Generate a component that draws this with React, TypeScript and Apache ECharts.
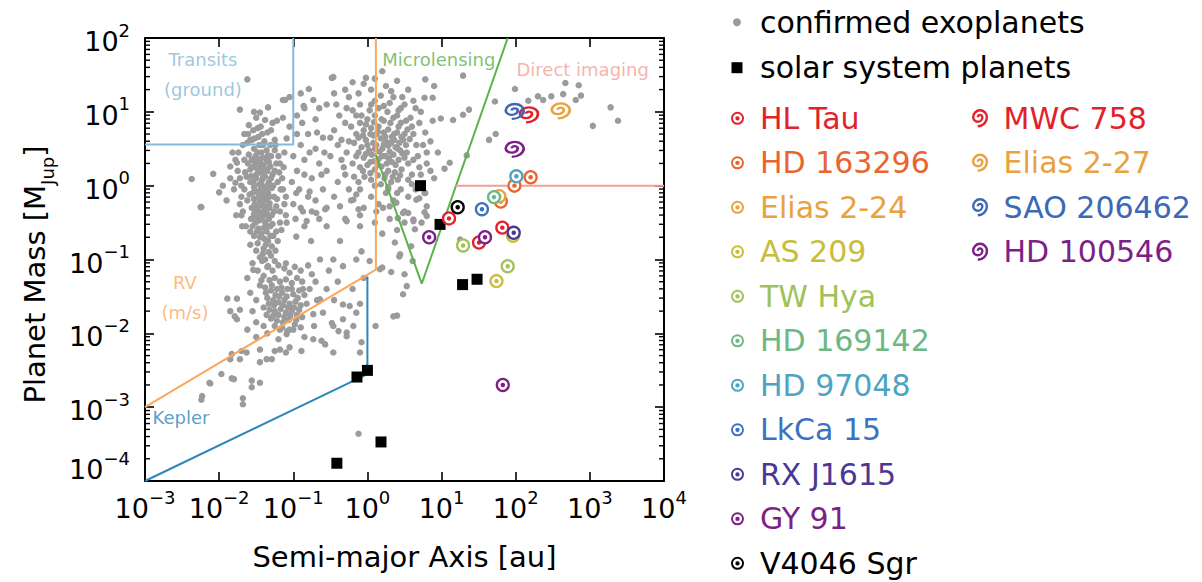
import { useEffect, useRef } from 'react';
import * as echarts from 'echarts';

const FONT = 'DejaVu Sans';

// Confirmed exoplanets, stored as [log10(a / au), log10(M / MJup)]
const exoplanetsLog: [number, number][] = [
  // hot Jupiter clump
  [-1.45,0.32],[-1.40,0.28],[-1.36,0.35],[-1.48,0.22],[-1.43,0.18],[-1.35,0.20],[-1.31,0.26],[-1.50,0.10],[-1.42,0.08],[-1.38,0.12],
  [-1.33,0.05],[-1.46,0.02],[-1.40,-0.02],[-1.36,-0.06],[-1.49,-0.08],[-1.43,-0.12],[-1.39,-0.16],[-1.34,-0.10],[-1.29,-0.03],[-1.53,-0.18],
  [-1.45,-0.22],[-1.41,-0.27],[-1.37,-0.20],[-1.32,-0.24],[-1.48,-0.30],[-1.44,-0.36],[-1.39,-0.33],[-1.35,-0.38],[-1.42,-0.44],[-1.38,-0.50],
  [-1.46,-0.47],[-1.33,-0.45],[-1.40,-0.57],[-1.36,-0.62],[-1.43,-0.65],[-1.39,-0.72],[-1.34,-0.55],[-1.31,-0.68],[-1.47,-0.58],[-1.37,-0.80],
  [-1.55,0.25],[-1.28,0.15],[-1.26,-0.15],[-1.51,0.40],[-1.43,0.45],[-1.36,0.48],[-1.30,0.40],[-1.58,0.05],[-1.23,0.30],[-1.21,0.05],
  [-1.56,-0.30],[-1.26,-0.35],[-1.50,0.15],[-1.33,0.32],[-1.41,0.38],[-1.46,0.55],[-1.39,0.60],[-1.31,0.55],[-1.53,0.50],[-1.25,0.48],
  [-1.61,0.30],[-1.63,0.12],[-1.19,0.18],[-1.17,-0.05],[-1.59,-0.12],[-1.23,-0.28],[-1.51,-0.42],[-1.28,-0.52],[-1.55,-0.55],[-1.23,-0.62],
  [-1.44,0.25],[-1.37,0.22],[-1.41,0.14],[-1.35,0.00],[-1.44,-0.05],[-1.38,-0.10],[-1.42,-0.19],[-1.36,-0.29],[-1.40,-0.40],[-1.32,-0.15],
  [-1.47,0.36],[-1.34,0.41],[-1.30,0.10],[-1.47,-0.15],[-1.29,-0.40],[-1.45,-0.70],[-1.34,-0.75],[-1.40,-0.85],
  [-1.48,-0.78],[-1.41,-0.92],[-1.33,-0.90],[-1.45,-0.97],[-1.29,-0.82],[-1.53,-0.68],[-1.21,-0.75],[-1.38,-1.00],
  [-1.70,0.00],[-1.65,0.18],[-1.62,-0.20],[-1.68,-0.35],[-1.60,0.42],[-1.57,-0.45],[-1.64,-0.55],[-1.72,0.10],[-1.66,0.35],[-1.58,0.22],
  [-1.54,0.05],[-1.55,-0.10],[-1.52,-0.25],[-1.50,-0.35],[-1.56,0.35],[-1.53,-0.02],[-1.49,0.27],[-1.51,-0.50],[-1.58,-0.62],[-1.49,-0.62],
  [-1.25,0.20],[-1.22,-0.18],[-1.18,-0.35],[-1.20,0.40],[-1.16,-0.60],[-1.27,-0.68],[-1.24,0.55],[-1.13,0.25],[-1.12,-0.25],[-1.62,0.58],
  [-1.70,-0.15],[-1.74,0.45],[-1.69,-0.55],[-1.77,-0.40],[-1.61,0.70],[-1.54,0.75],[-1.44,0.80],[-1.35,0.72],[-1.28,0.85],[-1.58,-0.80],
  [-1.50,-0.88],[-1.30,-0.95],[-1.24,-0.88],[-1.56,0.62],[-1.47,0.66],[-1.41,0.55],[-1.52,0.32],[-1.57,0.13],[-1.46,-0.42],[-1.53,-0.38],
  [-1.32,-0.30],[-1.27,0.00],[-1.31,-0.55],[-1.36,-0.15],[-1.43,0.02],[-1.48,0.45],
  [-1.75,0.20],[-1.80,-0.05],[-1.72,-0.25],[-1.78,0.35],[-1.85,0.10],[-1.70,-0.40],[-1.90,-0.20],[-1.82,0.45],[-1.95,0.00],[-2.08,0.16],
  [-2.00,-0.09],[-2.25,-0.29],[-2.37,0.09],[-1.85,0.26],[-1.76,0.31],[-1.78,0.04],[-1.68,0.55],[-1.66,-0.05],
  [-1.62,1.44],[-1.72,1.03],[-1.53,1.00],[-1.45,0.99],[-1.34,1.06],[-1.14,1.16],[-1.38,0.89],[-1.58,0.62],[-1.52,0.64],[-1.09,0.64],
  [-1.60,0.82],[-1.48,0.78],[-1.30,0.75],[-1.22,0.88],[-1.42,0.70],[-1.66,0.70],[-1.25,0.62],[-1.12,0.45],[-1.18,0.30],[-1.15,0.10],
  [-1.10,-0.15],[-1.10,-0.40],[-1.18,-0.50],[-1.14,0.92],[-1.50,0.92],
  // between the clumps
  [-1.05,1.20],[-0.95,0.95],[-0.85,1.05],[-0.70,0.90],[-0.80,0.70],[-0.90,0.55],[-1.00,0.40],[-0.95,0.20],[-0.85,0.35],[-0.75,0.10],
  [-0.70,0.50],[-0.65,0.30],[-0.60,-0.05],[-0.80,-0.15],[-0.92,-0.05],[-1.00,-0.25],[-0.75,-0.35],[-0.65,-0.45],[-0.85,-0.55],[-1.05,0.80],
  [-0.79,1.31],[-0.73,1.16],[-1.11,1.16],[-0.86,1.08],[-0.46,1.47],[-0.02,1.46],[-0.48,1.46],
  [-0.95,0.70],[-0.88,0.85],[-0.78,0.45],[-0.68,0.72],[-0.62,0.15],[-0.58,0.45],[-0.90,-0.30],[-0.70,-0.20],[-1.02,0.05],[-0.97,-0.45],
  [-0.85,0.15],[-0.55,-0.30],[-0.65,1.05],[-0.90,1.25],
  // cold Jupiter clump
  [-0.10,0.85],[0.00,0.90],[0.10,0.95],[0.22,0.88],[0.35,0.92],[0.45,0.85],[-0.05,0.75],[0.05,0.78],[0.15,0.80],[0.28,0.76],
  [0.40,0.72],[0.50,0.70],[-0.12,0.65],[-0.02,0.62],[0.08,0.68],[0.18,0.64],[0.25,0.60],[0.33,0.66],[0.43,0.58],[0.52,0.55],
  [-0.08,0.52],[0.02,0.48],[0.12,0.55],[0.20,0.50],[0.30,0.46],[0.38,0.52],[0.47,0.44],[-0.15,0.40],[-0.05,0.38],[0.06,0.42],
  [0.15,0.36],[0.24,0.40],[0.33,0.32],[0.42,0.35],[0.55,0.30],[-0.10,0.25],[0.00,0.28],[0.10,0.22],[0.19,0.26],[0.28,0.20],
  [0.37,0.18],[0.46,0.22],[-0.04,0.12],[0.05,0.08],[0.14,0.14],[0.23,0.10],[0.32,0.05],[0.41,0.08],[0.08,0.58],[0.28,0.54],
  [0.36,0.62],[0.12,0.70],[-0.18,0.58],[0.22,0.72],[0.48,0.62],[0.16,0.46],[0.04,0.32],[0.26,0.30],[0.18,0.02],[-0.12,0.05],
  [0.35,0.42],[0.44,0.48],
  [-0.15,0.70],[-0.08,0.95],[0.03,1.02],[0.15,1.05],[0.27,1.00],[0.40,0.95],[0.52,0.88],[0.60,0.80],[-0.02,0.83],[0.09,0.86],
  [0.19,0.90],[0.31,0.85],[0.42,0.80],[0.54,0.76],[-0.06,0.68],[0.04,0.70],[0.14,0.73],[0.24,0.67],[0.36,0.70],[0.46,0.66],
  [0.57,0.63],[0.00,0.55],[0.10,0.50],[0.22,0.56],[0.32,0.58],[0.41,0.50],[0.53,0.45],[-0.12,0.45],[-0.02,0.43],[0.09,0.33],
  [0.20,0.40],[0.29,0.37],[0.38,0.28],[0.50,0.38],[0.62,0.35],[-0.06,0.20],[0.04,0.17],[0.14,0.28],[0.24,0.15],[0.34,0.12],
  [0.44,0.14],[0.55,0.08],[-0.10,-0.05],[0.10,0.00],[0.28,-0.02],[0.40,-0.10],[0.60,0.02],[0.70,0.25],[0.66,0.55],[0.78,0.72],
  [-0.30,0.85],[-0.35,0.62],[-0.28,0.45],[-0.32,0.25],[-0.40,0.05],[-0.18,0.12],[-0.22,-0.20],[-0.45,-0.15],[-0.50,0.65],[-0.42,1.10],
  [-0.25,1.20],[-0.12,1.25],[0.05,1.30],[0.18,1.22],[0.32,1.28],[0.47,1.20],[0.62,1.15],[0.72,1.00],[0.80,0.45],[0.85,0.20],
  [0.12,-0.35],[0.30,-0.28],[-0.10,-0.40],[0.50,-0.50],[0.22,1.08],[0.05,1.10],[0.45,1.05],[-0.20,1.02],
  [-0.55,1.10],[-0.45,1.25],[-0.30,1.30],[-0.20,1.40],[-0.05,1.38],[0.10,1.45],[0.25,1.35],[0.40,1.42],[0.55,1.30],[0.20,1.55],
  [0.35,1.20],[0.50,1.10],[0.65,1.05],[0.70,0.85],[0.62,0.70],[0.75,0.55],[0.68,0.40],[0.80,0.30],[0.72,0.15],[0.85,0.60],
  [0.60,0.15],[0.65,-0.05],[0.55,-0.15],[0.45,-0.05],[0.35,-0.20],[0.25,-0.10],[0.15,-0.25],[0.05,-0.15],[-0.05,-0.30],[-0.15,-0.12],
  [-0.25,-0.05],[-0.30,0.15],[-0.35,0.35],[-0.40,0.55],[-0.45,0.75],[-0.38,0.95],[-0.28,1.05],[-0.22,0.80],[-0.25,0.60],[-0.50,0.40],
  [-0.55,0.20],[-0.60,0.65],[-0.20,0.30],[0.58,0.92],[0.42,1.02],[0.30,1.12],[0.10,1.15],[-0.10,1.10],[-0.15,0.95],[0.88,0.88],
  [0.95,0.45],[0.90,0.10],[0.78,-0.10],[0.50,-0.35],[0.30,-0.45],[0.10,-0.50],[-0.10,-0.55],[-0.30,-0.45],[0.40,-0.60],[0.20,-0.65],
  // wide orbits, top right
  [0.78,1.44],[0.90,1.35],[1.29,1.49],[0.77,1.19],[0.88,1.19],[0.99,0.91],[1.155,0.89],[1.29,0.96],[1.37,1.03],[1.11,0.31],
  [1.34,0.41],[1.72,1.14],[1.73,0.70],[1.64,0.62],[1.99,1.31],[2.17,1.15],[2.30,1.21],[2.37,1.16],[2.48,1.21],[2.64,1.24],
  [2.67,1.39],[2.81,1.16],[2.85,1.36],[2.88,1.22],[3.28,1.06],[3.38,0.88],[3.04,0.81],[1.04,0.23],
  // warm Neptunes and intermediate region
  [-0.87,-0.35],[-0.82,-0.48],[-1.09,-0.50],[-0.96,-0.69],[-0.69,-0.37],[-0.57,-0.32],[-0.37,-0.28],[-0.19,-0.19],[-0.12,-0.32],[-0.28,-0.48],
  [-0.37,-0.75],[-0.76,-0.75],[-0.64,-1.00],[-0.46,-1.00],[-0.33,-1.09],[-0.15,-1.00],[0.03,-1.02],[0.17,-1.13],[-0.08,-0.89],[-0.55,-0.55],
  [-0.78,-0.08],[-0.96,-0.10],[-1.14,-0.05],[0.28,-0.05],[0.39,-0.23],[0.48,-0.37],[0.62,-0.46],[0.64,-0.59],[0.44,-0.93],[0.50,-1.20],
  [0.53,-1.36],[0.48,-1.47],[0.40,-1.76],[0.11,-1.90],[-0.08,-2.12],[-0.39,-1.97],[-0.48,-1.86],[-0.33,-1.81],[-0.19,-1.90],[-0.24,-1.63],
  [-0.33,-1.61],[-0.64,-1.54],[-0.73,-1.74],[-0.62,-2.10],[-0.73,-2.08],[-0.89,-2.24],[-1.05,-2.19],[-1.09,-2.01],[-1.25,-2.24],[-1.36,-2.35],
  [-1.45,-2.39],[-1.70,-2.24],[-1.83,-2.28],[-1.85,-2.35],[-1.97,-2.55],[-2.13,-2.67],[-1.83,-2.61],[-1.68,-2.88],[-2.23,-2.85],[-1.56,-2.64],
  [-1.45,-2.67],[-1.29,-2.35],[-1.18,-2.22],[-1.89,-1.53],[-1.76,-1.53],[-1.85,-1.70],[-1.72,-1.68],[-1.76,-1.81],[-1.79,-1.77],[-1.54,-1.14],
  [-1.34,-1.09],[-2.24,-0.29],
  [0.77,-0.10],[0.70,-0.17],[0.80,-0.41],[0.62,-0.48],[0.41,-0.44],[0.21,-0.30],[0.37,-0.77],[0.59,-0.82],[0.43,-0.96],[0.61,-1.02],
  [0.20,-1.11],[0.32,-1.17],[1.25,-0.73],[0.77,-0.36],[0.73,-0.50],[0.66,-0.19],[0.55,-0.37],[0.80,-0.28],
  // super-Earth / Neptune clump
  [-1.35,-1.10],[-1.28,-1.15],[-1.20,-1.08],[-1.12,-1.12],[-1.05,-1.18],[-0.98,-1.10],[-1.40,-1.22],[-1.32,-1.28],[-1.25,-1.25],[-1.18,-1.30],
  [-1.10,-1.27],[-1.02,-1.32],[-0.95,-1.25],[-0.88,-1.30],[-1.38,-1.38],[-1.30,-1.42],[-1.22,-1.40],[-1.15,-1.45],[-1.08,-1.40],[-1.00,-1.47],
  [-0.92,-1.42],[-0.85,-1.48],[-1.35,-1.52],[-1.27,-1.55],[-1.20,-1.58],[-1.12,-1.55],[-1.05,-1.60],[-0.97,-1.57],[-0.90,-1.62],[-1.40,-1.65],
  [-1.32,-1.68],[-1.25,-1.70],[-1.17,-1.67],[-1.10,-1.72],[-1.02,-1.70],[-0.95,-1.75],[-1.30,-1.80],[-1.22,-1.83],[-1.14,-1.85],[-1.06,-1.82],
  [-0.98,-1.88],[-1.18,-1.95],[-1.08,-1.97],[-0.82,-1.60],[-0.78,-1.40],[-0.75,-1.20],[-1.45,-1.35],[-1.50,-1.55],[-1.48,-1.15],[-1.55,-1.70],
  [-0.88,-1.78],
  [-1.43,-1.28],[-1.37,-1.45],[-1.29,-1.35],[-1.24,-1.48],[-1.16,-1.38],[-1.09,-1.50],[-1.02,-1.40],[-0.94,-1.52],[-0.87,-1.40],[-1.33,-1.60],
  [-1.26,-1.62],[-1.19,-1.50],[-1.14,-1.62],[-1.07,-1.65],[-0.99,-1.65],[-0.92,-1.68],[-1.36,-1.75],[-1.27,-1.76],[-1.20,-1.75],[-1.12,-1.78],
  [-1.04,-1.76],[-0.96,-1.82],[-1.25,-1.90],[-1.15,-1.92],[-1.00,-1.95],[-0.90,-1.92],[-1.40,-1.90],[-1.50,-1.85],[-1.58,-1.45],[-1.62,-1.25],
  [-1.55,-1.05],[-1.42,-1.02],[-1.25,-1.02],[-1.10,-1.05],[-0.90,-1.15],[-0.80,-1.08],[-0.70,-1.30],[-0.68,-1.55],[-0.72,-1.90],[-0.85,-2.05],
  [-1.20,-2.08],[-1.35,-2.00],[-1.50,-2.05],[-1.62,-1.95],[-0.60,-1.72],[-0.55,-1.40],[-0.52,-1.15],[-0.40,-1.30],[-0.45,-1.55],[-0.20,-1.40],
  [-0.10,-1.60],[-0.05,-1.25],
  // low-mass tail
  [-1.63,-2.26],[-1.45,-2.22],[-1.72,-2.35],[-1.05,-1.95],[-0.57,-2.15],[-0.46,-1.90],[-0.28,-1.99],[-0.15,-1.72],[-0.10,-2.26],[-0.46,-2.26],
  [-1.10,-2.26],[-2.12,-2.68],[-1.80,-2.62],[-1.56,-2.73],[-2.24,-2.90],[-1.68,-2.96],[-0.12,-3.36],[0.35,-1.77],[-0.28,-2.04],
];

// Solar system planets: semi-major axis [au] and mass [MJup]
const solarNames = ['Mercury', 'Venus', 'Earth', 'Mars', 'Jupiter', 'Saturn', 'Uranus', 'Neptune'];
const solarA = [0.387, 0.723, 1.0, 1.524, 5.2, 9.54, 19.2, 30.1];
const solarM = [1.74e-4, 2.56e-3, 3.15e-3, 3.38e-4, 1.0, 0.299, 0.0457, 0.054];

// Ring/gap disks (target markers): [a au, M MJup] per candidate planet
const ringNames = ['HL Tau', 'HD 163296', 'Elias 2-24', 'AS 209', 'TW Hya', 'HD 169142', 'HD 97048', 'LkCa 15', 'RX J1615', 'GY 91', 'V4046 Sgr'];
const ringColors = ['#e2222a', '#e9642f', '#e9a23d', '#c8bd3d', '#a0c257', '#6db883', '#4fa3c2', '#3d72c2', '#4b3893', '#7e1f88', '#000000'];
const ringPlanets: [number, number][][] = [
  [[12.6, 0.36], [32, 0.17], [66, 0.27]],
  [[96, 1.0], [159, 1.3], [63, 0.61]],
  [[60, 0.72]],
  [[92, 0.21], [55, 0.051]],
  [[19.5, 0.155], [78, 0.081]],
  [[51, 0.70]],
  [[102, 1.34]],
  [[35, 0.48]],
  [[94, 0.23]],
  [[6.8, 0.20], [38.5, 0.20], [67, 0.002]],
  [[16.5, 0.51]],
];

// Spiral disks
const spiralNames = ['MWC 758', 'Elias 2-27', 'SAO 206462', 'HD 100546'];
const spiralColors = ['#e2222a', '#e9a23d', '#3d68b6', '#7e1f88'];
const spiralPlanets: [number, number][][] = [
  [[151, 9.1]],
  [[405, 10.3]],
  [[97, 10.1]],
  [[97, 3.1]],
];

// Detection-limit boundaries [a au, M MJup]
const transitsLine = [[1e-3, 3.6], [0.1, 3.6], [0.1, 100]];
const rvLine = [[1e-3, 1e-3], [1.3, 0.073], [1.3, 100]];
const keplerLine = [[1e-3, 1e-4], [1.0, 2.8e-3], [1.0, 0.059]];
const microlensingLine = [[1.3, 2.6], [5.4, 0.047], [78, 100]];
const directImagingLine = [[15.5, 1.0], [1e4, 1.0]];

const boundaryNames = ['Transits (ground)', 'RV (m/s)', 'Kepler', 'Microlensing', 'Direct imaging'];
const boundaryColors = ['#86b8d9', '#fba85d', '#2f85bb', '#5bb24b', '#f29f97'];
const boundaryLines = [transitsLine, rvLine, keplerLine, microlensingLine, directImagingLine];

// Region labels: text, position [a, M]
const regionLabelTexts = ['Transits\n(ground)', 'RV\n(m/s)', 'Kepler', 'Microlensing', 'Direct imaging'];
const regionLabelPos = [[0.00605, 31.6], [0.00346, 0.0306], [0.00305, 7.3e-4], [9.2, 50.5], [800, 37]];

// Axis tick values
const yMinorTickValues: number[] = [];
for (let k = -4; k <= 1; k++) for (let d = 2; d <= 9; d++) yMinorTickValues.push(d * Math.pow(10, k));

const SPIRAL = 'path://M10 10A2 2 0 0 1 14 10A4 4 0 0 1 6 10A6 6 0 0 1 18 10A8 8 0 0 1 10 18';
const TARGET = 'path://M1 10A9 9 0 1 1 19 10A9 9 0 1 1 1 10ZM3.7 10A6.3 6.3 0 1 0 16.3 10A6.3 6.3 0 1 0 3.7 10ZM7 10A3 3 0 1 1 13 10A3 3 0 1 1 7 10Z';

const supLabel = (v: number) => {
  const e = Math.round(Math.log10(v));
  const s = e < 0 ? '\u2212' + -e : String(e);
  if (e === -4) return `{b|10}{s|${s}}\n{e| }`;
  return `{b|10}{s|${s}}`;
};

const tickRich = {
  b: { fontFamily: FONT, fontSize: 27, color: '#000', lineHeight: 34, verticalAlign: 'bottom' },
  s: { fontFamily: FONT, fontSize: 18, color: '#000', lineHeight: 18, verticalAlign: 'top' },
  e: { fontFamily: FONT, fontSize: 10, lineHeight: 30 },
};

const axisCommon = {
  type: 'log' as const,
  logBase: 10,
  axisLine: { lineStyle: { color: '#000', width: 2 } },
  axisTick: { inside: true, length: 9, lineStyle: { color: '#000', width: 1.6 } },
  minorTick: { show: false },
  splitLine: { show: false },
};

export default function App() {
  const ref = useRef<HTMLDivElement>(null);
  useEffect(() => {
    if (!ref.current) return;
    const chart = echarts.init(ref.current, undefined, { renderer: 'svg' });

    const series: any[] = [];
    // minor ticks of the log y axes (left and right), placed through the axis scale
    series.push({
      name: 'y minor ticks',
      type: 'custom',
      data: yMinorTickValues.map((v) => [1e-3, v]),
      renderItem: (_params: any, api: any) => {
        const v = api.value(1);
        const l = api.coord([1e-3, v]);
        const r = api.coord([1e4, v]);
        const st = { stroke: '#000', lineWidth: 1.4 };
        return {
          type: 'group',
          children: [
            { type: 'line', shape: { x1: l[0], y1: l[1], x2: l[0] + 5, y2: l[1] }, style: st },
            { type: 'line', shape: { x1: r[0], y1: r[1], x2: r[0] - 5, y2: r[1] }, style: st },
          ],
        };
      },
      z: 10,
      silent: true,
      clip: false,
    });
    series.push({
      name: 'confirmed exoplanets',
      type: 'scatter',
      data: exoplanetsLog.map(([la, lm]) => [Math.pow(10, la), Math.pow(10, lm)]),
      symbol: 'circle',
      symbolSize: 6.5,
      itemStyle: { color: '#9b9b9b', opacity: 1 },
      z: 1,
      silent: true,
    });
    boundaryLines.forEach((line, i) => {
      series.push({
        name: boundaryNames[i],
        type: 'line',
        data: line,
        symbol: 'none',
        lineStyle: { color: boundaryColors[i], width: 2 },
        z: 2,
        silent: true,
      });
    });
    series.push({
      name: 'region labels',
      type: 'scatter',
      data: regionLabelTexts.map((t, i) => ({
        name: t,
        value: regionLabelPos[i],
        label: { color: boundaryColors[i] },
      })),
      symbolSize: 1,
      itemStyle: { color: 'rgba(0,0,0,0)' },
      label: {
        show: true,
        position: 'inside',
        formatter: (p: any) => p.name,
        fontFamily: FONT,
        fontSize: 18,
        lineHeight: 30,
        align: 'center',
      },
      z: 2,
      silent: true,
    });
    series.push({
      name: 'solar system planets',
      type: 'scatter',
      data: solarA.map((a, i) => ({ name: solarNames[i], value: [a, solarM[i]] })),
      symbol: 'rect',
      symbolSize: 11,
      itemStyle: { color: '#000', opacity: 1 },
      z: 3,
      silent: true,
    });
    ringNames.forEach((name, i) => {
      series.push({
        name,
        type: 'scatter',
        data: ringPlanets[i],
        symbol: 'circle',
        symbolSize: 12,
        itemStyle: { color: '#fff', borderColor: ringColors[i], borderWidth: 2.3, opacity: 1 },
        z: 4,
        silent: true,
      });
      series.push({
        name: name + ' centre',
        type: 'scatter',
        data: ringPlanets[i],
        symbol: 'circle',
        symbolSize: 4.5,
        itemStyle: { color: ringColors[i], opacity: 1 },
        z: 4,
        silent: true,
      });
    });
    spiralNames.forEach((name, i) => {
      series.push({
        name,
        type: 'scatter',
        data: spiralPlanets[i],
        symbol: SPIRAL,
        symbolSize: [18, 15],
        itemStyle: { color: 'rgba(0,0,0,0)', borderColor: spiralColors[i], borderWidth: 2.5, opacity: 1 },
        z: 5,
        silent: true,
      });
    });

    const legendText = { fontFamily: FONT, fontSize: 30, lineHeight: 30, color: '#000' };

    chart.setOption({
      animation: false,
      backgroundColor: '#fff',
      grid: { left: 145, right: 538, top: 38, bottom: 101, containLabel: false },
      xAxis: [
        {
          ...axisCommon,
          min: 1e-3,
          max: 1e4,
          position: 'bottom',
          axisLabel: { formatter: supLabel, rich: tickRich, margin: 7, showMinLabel: true, showMaxLabel: true },
          name: 'Semi-major Axis [au]',
          nameLocation: 'middle',
          nameGap: 61,
          nameTextStyle: { fontFamily: FONT, fontSize: 29, color: '#000' },
        },
        {
          ...axisCommon,
          min: 1e-3,
          max: 1e4,
          position: 'top',
          axisLabel: { show: false },
        },
      ],
      yAxis: [
        {
          ...axisCommon,
          min: 1e-4,
          max: 100,
          position: 'left',
          axisLabel: { formatter: supLabel, rich: tickRich, margin: 15, showMinLabel: true, showMaxLabel: true },
          name: '{n|Planet Mass [M}{j|Jup}{n|]}',
          nameLocation: 'middle',
          nameGap: 93,
          nameRotate: 90,
          nameTextStyle: {
            padding: [0, 30, 0, 0],
            rich: {
              n: { fontFamily: FONT, fontSize: 29, color: '#000', lineHeight: 32, verticalAlign: 'top' },
              j: { fontFamily: FONT, fontSize: 18, color: '#000', lineHeight: 16, verticalAlign: 'bottom', padding: [0, 0, -4, 0] },
            },
          },
        },
        {
          ...axisCommon,
          min: 1e-4,
          max: 100,
          position: 'right',
          axisLabel: { show: false },
        },
      ],
      legend: [
        {
          data: [{ name: 'confirmed exoplanets', icon: 'circle' }],
          left: 733, top: 7.3, orient: 'vertical', itemWidth: 8, itemHeight: 8, padding: 0,
          textStyle: { ...legendText, padding: [0, 0, 0, 14] }, selectedMode: false,
        },
        {
          data: [{ name: 'solar system planets', icon: 'rect' }],
          left: 731.5, top: 52.7, orient: 'vertical', itemWidth: 11, itemHeight: 11, padding: 0,
          textStyle: { ...legendText, padding: [0, 0, 0, 12.5] }, selectedMode: false,
        },
        {
          data: ringNames.map((n, i) => ({
            name: n,
            icon: TARGET,
            itemStyle: { color: ringColors[i], borderWidth: 0 },
            textStyle: { color: ringColors[i] },
          })),
          left: 731, top: 103.3, height: 478, orient: 'vertical', itemWidth: 13, itemHeight: 13, itemGap: 14.5, padding: 0,
          textStyle: { ...legendText, padding: [0, 0, 0, 11] }, selectedMode: false,
        },
        {
          data: spiralNames.map((n, i) => ({
            name: n,
            itemStyle: { color: 'rgba(0,0,0,0)', borderColor: spiralColors[i], borderWidth: 2.4 },
            textStyle: { color: spiralColors[i] },
          })),
          left: 972, top: 103.3, orient: 'vertical', itemWidth: 19, itemHeight: 16, itemGap: 14.5, padding: 0,
          textStyle: { ...legendText, padding: [0, 0, 0, 9] }, selectedMode: false,
        },
      ],
      series,
    });
    return () => chart.dispose();
  }, []);
  return <div ref={ref} style={{ position: 'fixed', left: 0, top: 0, width: 1202, height: 582 }} />;
}
